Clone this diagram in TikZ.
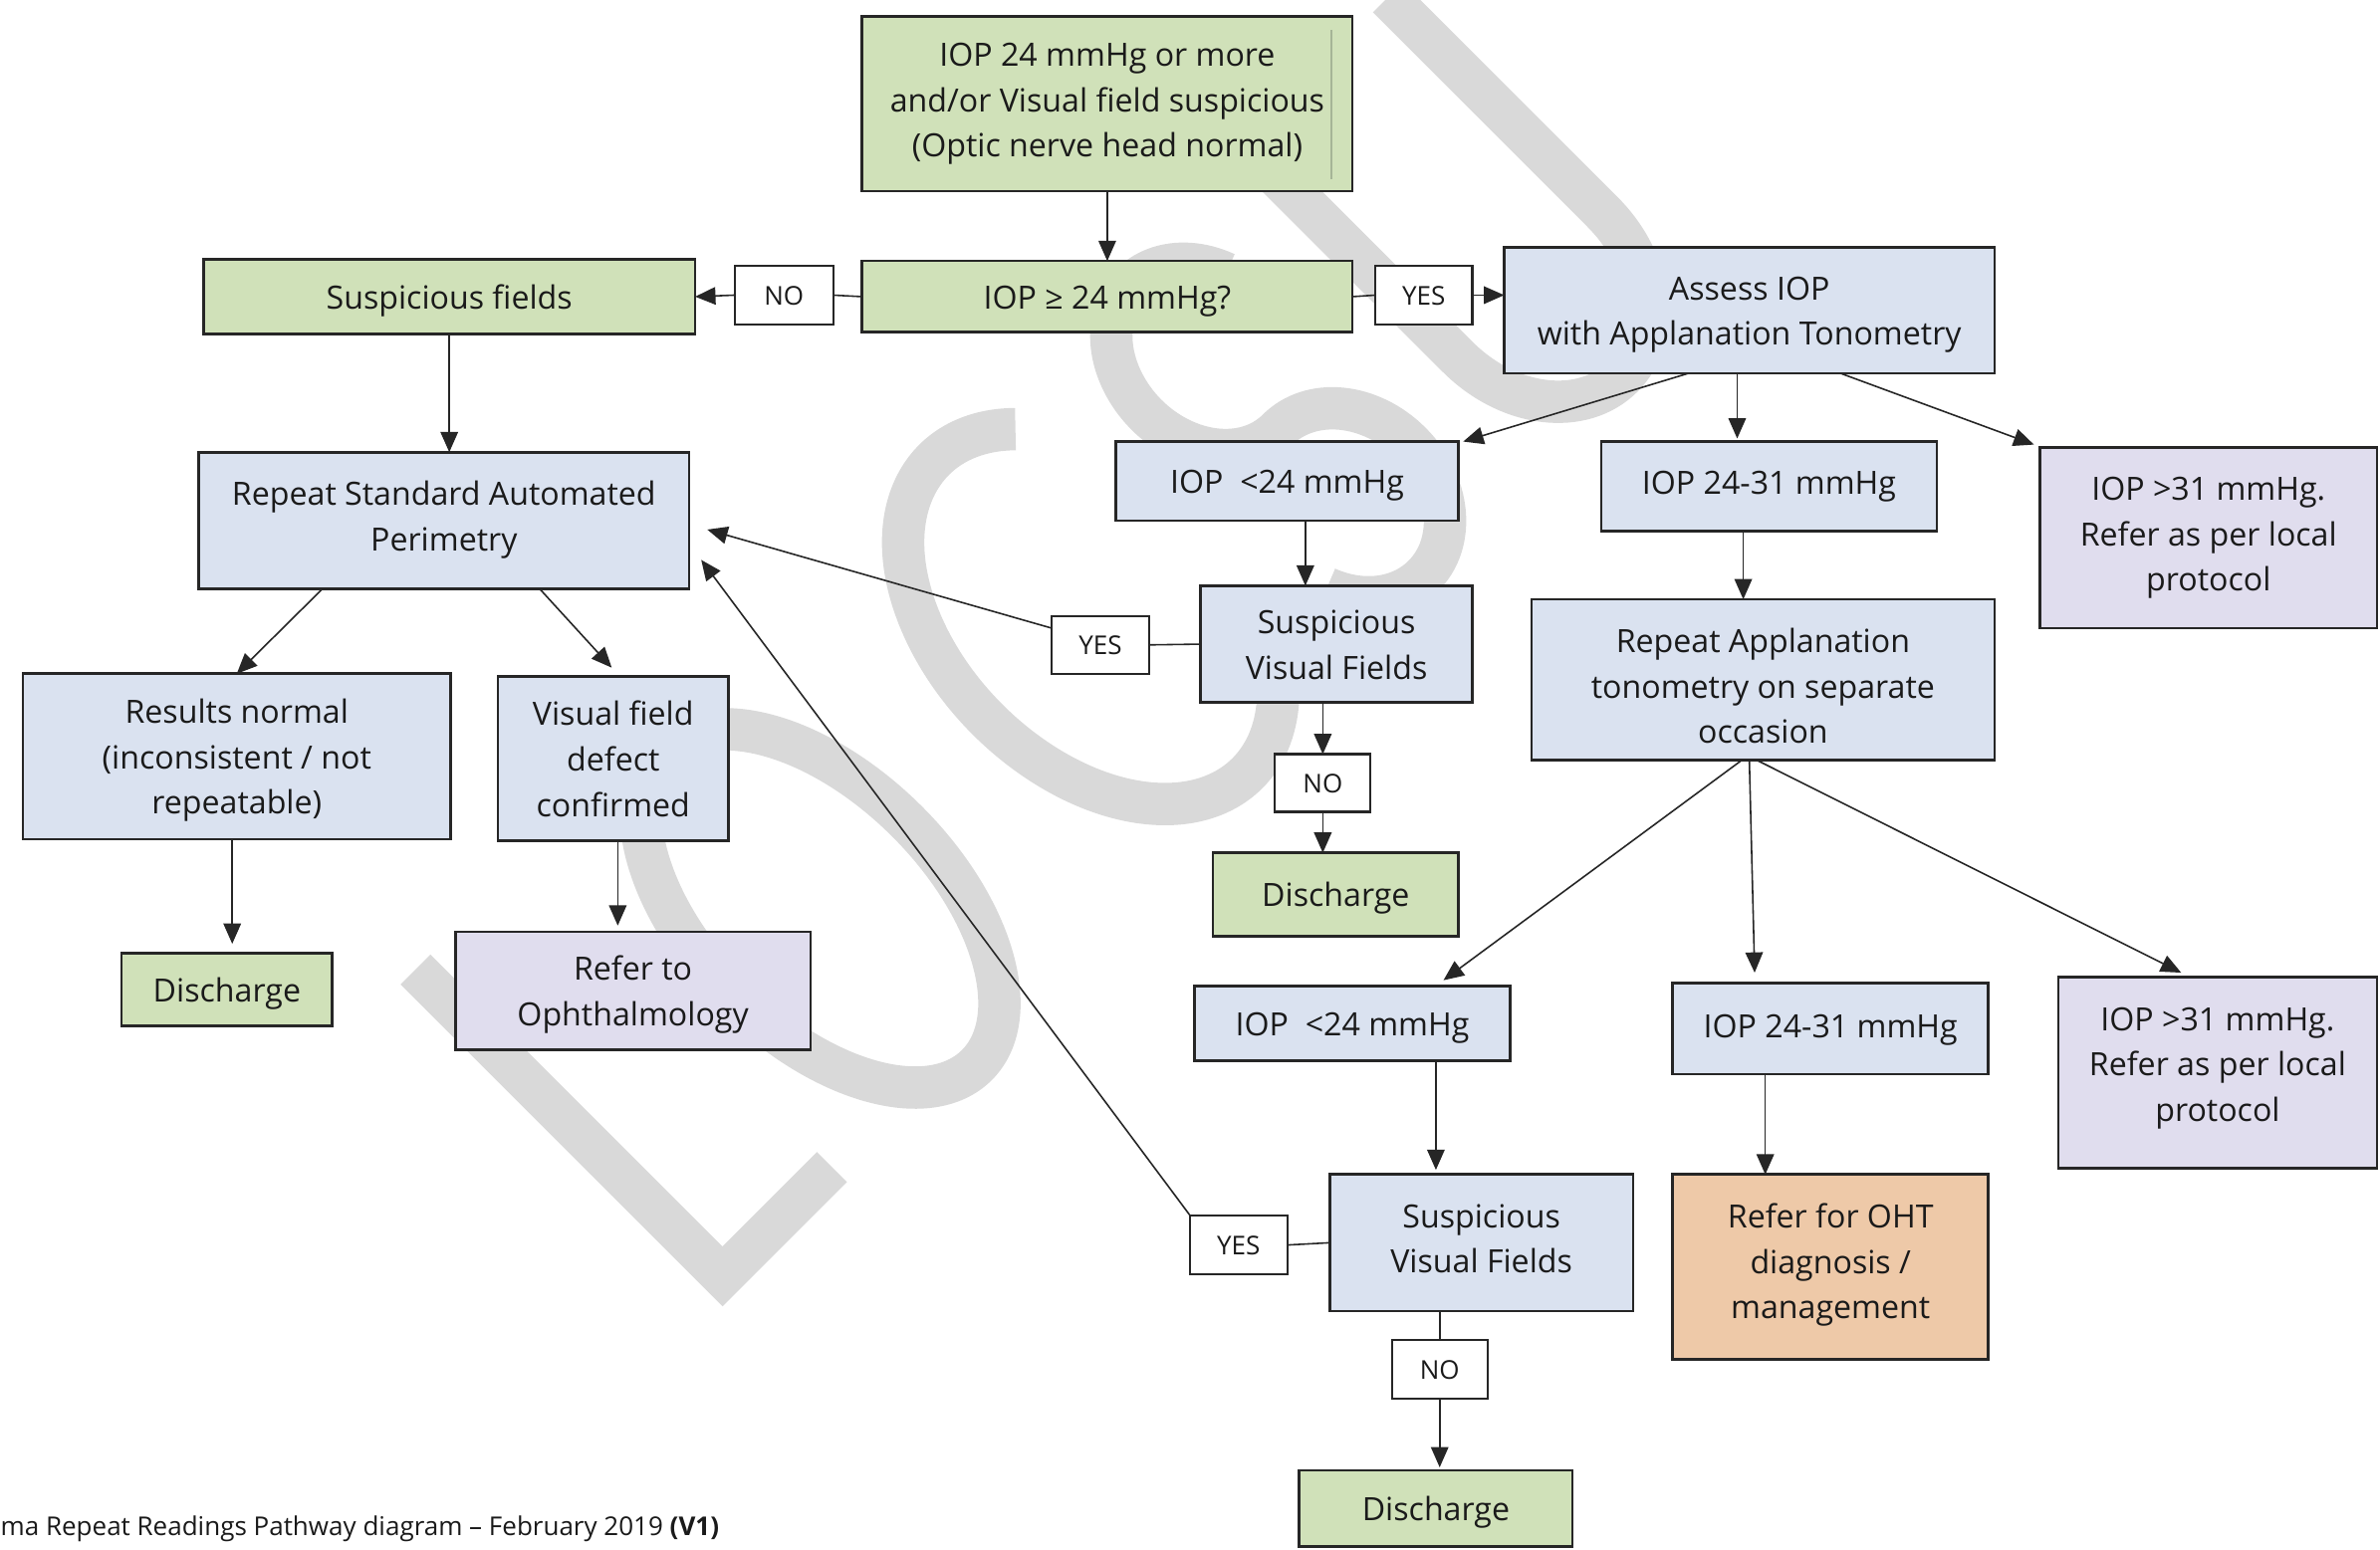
\documentclass[tikz,border=0pt]{standalone}
\usepackage{fontspec}
\setmainfont{Open Sans}
\usetikzlibrary{arrows.meta,calc}

\definecolor{boxgreen}{RGB}{208,225,185}
\definecolor{boxblue}{RGB}{218,226,240}
\definecolor{boxlilac}{RGB}{224,221,238}
\definecolor{boxorange}{RGB}{238,201,168}
\definecolor{edge}{RGB}{38,38,38}
\definecolor{mark}{RGB}{217,217,217}
\definecolor{ink}{RGB}{26,26,26}
\definecolor{faint}{RGB}{165,180,150}

% one drawing unit
\newcommand{\dpx}{0.015242cm}
% centred lines, lowered by 0.9pt plus an optional extra drop
\newcommand{\lines}[2]{\raisebox{\dimexpr-0.9pt-#1\relax}[\height][\depth]{\begin{tabular}{@{}c@{}}#2\end{tabular}}}
% \bx[text drop]{name}{style}{left}{top}{right}{bottom}{text}
\newcommand{\bx}[8][0pt]{%
  \node[#3, minimum width={(#6-#4)*\dpx}, minimum height={(#7-#5)*\dpx}]
    (#2) at ({(#4+#6)/2},{(#5+#7)/2}) {\lines{#1}{#8}};}

\tikzset{
  box/.style={draw=edge, line width=0.75pt, inner sep=0pt, outer sep=0pt,
    text=ink, font=\fontsize{9.15}{13}\selectfont},
  gbox/.style={box, fill=boxgreen},
  bbox/.style={box, fill=boxblue},
  lbox/.style={box, fill=boxlilac},
  obox/.style={box, fill=boxorange},
  tag/.style={draw=edge, line width=0.6pt, fill=white, inner sep=0pt, outer sep=0pt,
    text=ink, font=\fontsize{7.4}{10}\selectfont},
  arr/.style={draw=edge, line width=0.45pt, -{Triangle[length=5.8pt,width=5pt]}},
  link/.style={draw=edge, line width=0.45pt},
}

\begin{document}
\begin{tikzpicture}[x=\dpx, y=-\dpx]
\useasboundingbox (0,0) rectangle (1568,1021);
\fill[white] (0,0) rectangle (1568,1021);

% background lettering, rotated along the diagonal
\begin{scope}
  \clip (0,0) rectangle (1568,1021);
  \begin{scope}[shift={(476,861)}, x=\dpx, y=\dpx, rotate=45,
      color=mark, line width=12.1pt]
    % L
    \draw[miter limit=10] (14,300) -- (14,14) -- (116,14);
    % O
    \draw (231,140) ellipse [x radius=81, y radius=146];
    % C
    \draw (545.3,272.4) arc[start angle=57, end angle=303, x radius=96, y radius=146];
    % S
    \draw (716,246.7) arc[start angle=25, end angle=270, x radius=54, y radius=68]
                      arc[start angle=90, end angle=-155, x radius=56, y radius=68];
    % U
    \draw (785,300) -- (785,100) arc[start angle=180, end angle=360, x radius=67.5, y radius=86] -- (920,300);
  \end{scope}
\end{scope}

% boxes
\bx[-1.3pt]{start}{gbox}{568}{11}{891}{126}{IOP 24 mmHg or more\\and/or Visual field suspicious\\(Optic nerve head normal)}
\draw[line width=0.5pt, color=faint] ($(start.north east)+(-14,9)$) -- ($(start.south east)+(-14,-8)$);
\bx{q}{gbox}{568}{172}{891}{219}{IOP ≥ 24 mmHg?}
\bx{susp}{gbox}{134}{171}{458}{220}{Suspicious fields}
\bx{no1}{tag}{484}{175}{549}{214}{NO}
\bx{yes1}{tag}{906}{175}{970}{214}{YES}
\bx{assess}{bbox}{991}{163}{1314}{246}{Assess IOP\\with Applanation Tonometry}

\bx[-1.3pt]{sap}{bbox}{131}{298}{454}{388}{Repeat Standard Automated\\Perimetry}
\bx{resn}{bbox}{15}{444}{297}{553}{Results normal\\(inconsistent / not\\repeatable)}
\bx{vfd}{bbox}{328}{446}{480}{554}{Visual field\\defect\\confirmed}
\bx{dis1}{gbox}{80}{628}{219}{676}{Discharge}
\bx{oph}{lbox}{300}{614}{534}{692}{Refer to\\Ophthalmology}

\bx{lo1}{bbox}{735}{291}{961}{343}{IOP \ <24 mmHg}
\bx[-1.3pt]{mid1}{bbox}{1055}{291}{1276}{350}{IOP 24-31 mmHg}
\bx[-1.3pt]{hi1}{lbox}{1344}{295}{1566}{414}{IOP >31 mmHg.\\Refer as per local\\protocol}
\bx{svf1}{bbox}{791}{386}{970}{463}{Suspicious\\Visual Fields}
\bx{yes2}{tag}{693}{406}{757}{444}{YES}
\bx{no2}{tag}{840}{497}{903}{535}{NO}
\bx{dis2}{gbox}{799}{562}{961}{617}{Discharge}
\bx[1.7pt]{rat}{bbox}{1009}{395}{1314}{501}{Repeat Applanation\\tonometry on separate\\occasion}

\bx{lo2}{bbox}{787}{650}{995}{699}{IOP \ <24 mmHg}
\bx[-0.9pt]{mid2}{bbox}{1102}{648}{1310}{708}{IOP 24-31 mmHg}
\bx[-2.6pt]{hi2}{lbox}{1356}{644}{1566}{770}{IOP >31 mmHg.\\Refer as per local\\protocol}
\bx[-1.3pt]{svf2}{bbox}{876}{774}{1076}{864}{Suspicious\\Visual Fields}
\bx{yes3}{tag}{784}{801}{848}{840}{YES}
\bx{no3}{tag}{917}{883}{980}{922}{NO}
\bx{dis3}{gbox}{856}{969}{1036}{1019}{Discharge}
\bx[-1.7pt]{oht}{obox}{1102}{774}{1310}{896}{Refer for OHT\\diagnosis /\\management}

% footer line
\node[anchor=base west, inner sep=0pt, text=ink, font=\fontsize{7.4}{9}\selectfont] (foot) at (0,1012)
  {ma Repeat Readings Pathway diagram – February 2019 \textbf{(V1)}};

% connectors
\draw[arr] (start.south) -- (q.north);
\draw[link] (q.west) -- (no1.east);
\draw[arr] (no1.west) -- (susp.east);
\draw[link] (q.east) -- (yes1.west);
\draw[arr] (yes1.east) -- (yes1.east -| assess.west);
\draw[arr] (susp.south) -- (susp.south |- sap.north);
\draw[arr] ($(sap.south)+(-80,0)$) -- (resn.north);
\draw[arr] ($(sap.south)+(63,0)$) -- ($(vfd.north)+(-1,-6)$);
\draw[arr] ($(resn.south)+(-3,0)$) -- ($(resn.south |- dis1.north)+(-3,-6)$);
\draw[arr] ($(vfd.south)+(3,0)$) -- ($(vfd.south |- oph.north)+(3,-4)$);

\draw[arr] ($(assess.south)+(-40,0)$) -- ($(lo1.north east)+(3,0)$);
\draw[arr] ($(assess.south)+(-8,0)$) -- ($(assess.south |- mid1.north)+(-8,-2)$);
\draw[arr] ($(assess.south)+(60,0)$) -- ($(hi1.north west)+(-4,-2)$);
\draw[arr] ($(lo1.south)+(12,0)$) -- ($(lo1.south |- svf1.north)+(12,0)$);
\draw[link] (svf1.west) -- (yes2.east);
\draw[arr] ($(yes2.west)+(0,-11)$) -- ($(sap.east)+(12,6)$);
\draw[arr] (no2.north |- svf1.south) -- (no2.north);
\draw[arr] (no2.south) -- (no2.south |- dis2.north);
\draw[arr] ($(mid1.south)+(-17,0)$) -- ($(mid1.south |- rat.north)+(-17,0)$);

\draw[arr] ($(rat.south)+(-14,0)$) -- ($(lo2.north)+(60,-4)$);
\draw[arr] ($(rat.south)+(-9,0)$) -- ($(mid2.north)+(-50,-7)$);
\draw[arr] ($(rat.south)+(-4,0)$) -- ($(hi2.north)+(-24,-3)$);
\draw[arr] ($(lo2.south)+(55,0)$) -- ($(lo2.south |- svf2.north)+(55,-3)$);
\draw[link] (svf2.west) -- (yes3.east);
\draw[arr] (yes3.north west) -- ($(sap.east)+(8,26)$);
\draw[link] (no3.north |- svf2.south) -- (no3.north);
\draw[arr] (no3.south) -- ($(no3.south |- dis3.north)+(0,-2)$);
\draw[arr] ($(mid2.south)+(-43,0)$) -- ($(mid2.south |- oht.north)+(-43,0)$);
\end{tikzpicture}
\end{document}
